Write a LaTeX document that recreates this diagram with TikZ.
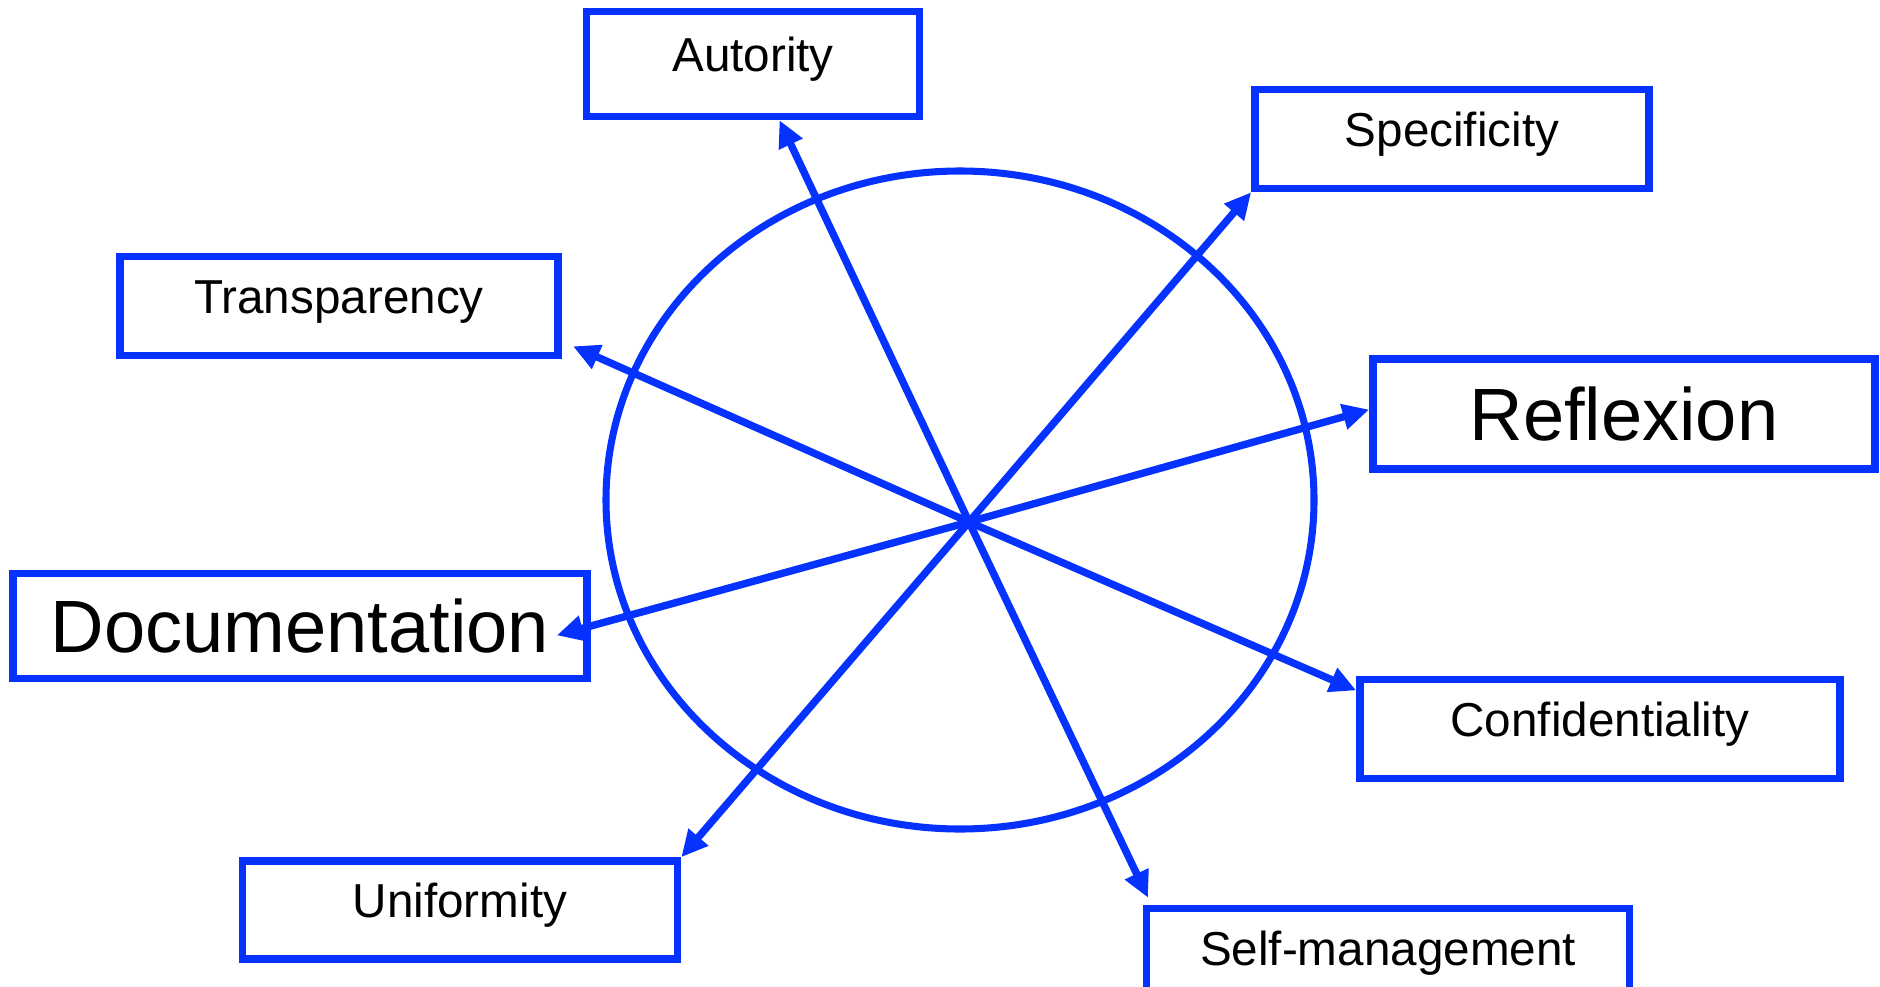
\documentclass[tikz,border=0pt]{standalone}
\usepackage{fontspec}
\setmainfont{Liberation Sans}
\usetikzlibrary{arrows.meta,positioning}
\definecolor{diagblue}{RGB}{5,50,255}

\begin{document}
\begin{tikzpicture}[
      x=0.5669pt, y=-0.5669pt,
      box_small/.style={
         rectangle,
         draw=diagblue,
         line width=4.3pt,
         inner sep=0pt,
         text height=20pt,
         text depth=12pt,
         font=\fontsize{27}{32}\selectfont},
      box_big/.style={
         box_small,
         text height=30pt,
         text depth=0pt,
         font=\fontsize{42}{50}\selectfont},
      ring/.style={
         draw=diagblue,
         line width=4pt},
      arrow_blue/.style={
        -{Triangle[length=15pt,width=14pt]},
        line width=4.2pt,
        draw=diagblue,
        }
]
      \useasboundingbox (0,0) rectangle (1880,986);

      %circle
      \draw[ring] (960,500) ellipse [x radius=354, y radius=329];
      \coordinate (hub) at (969,522);

      %boxes
      \node[box_small,minimum width=188.8pt,minimum height=59.5pt] (aut) at (753,64) {Autority};
      \node[box_small,minimum width=223.4pt,minimum height=56.1pt] (spec) at (1452,139) {Specificity};
      \node[box_small,minimum width=248.3pt,minimum height=56pt] (trans) at (339,306) {Transparency};
      \node[box_big,minimum width=284.6pt,minimum height=62.4pt] (refl) at (1624,414) {Reflexion};
      \node[box_big,minimum width=325.4pt,minimum height=59.5pt] (doc) at (300,626) {Documentation};
      \node[box_small,minimum width=272.1pt,minimum height=56.1pt] (conf) at (1600,729) {Confidentiality};
      \node[box_small,minimum width=246.6pt,minimum height=55.6pt] (uni) at (460,910) {Uniformity};
      \node[box_small,minimum width=273.8pt,minimum height=56.1pt] (self) at (1388,958) {Self-management};
      \coordinate (selftip) at ([xshift=3pt,yshift=4pt]self.north west);

    \foreach \j/\s in {% end node/shorten
      aut/0pt,
      spec.south west/0pt,
      refl.179/0pt,
      conf.171/0pt,
      selftip/0pt,
      uni.north east/0pt,
      doc.east/-20pt,
      trans.-9/7pt}
      \draw [arrow_blue, shorten >=\s] (hub) -- (\j);

\end{tikzpicture}
\end{document}
